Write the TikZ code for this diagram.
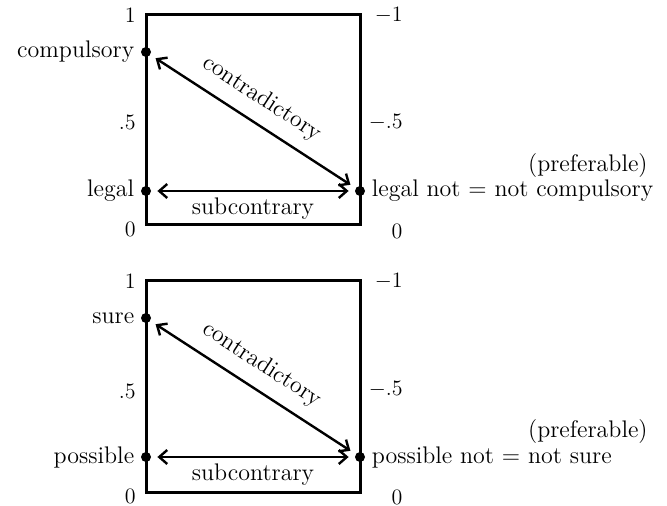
\documentclass[tikz,border=0pt]{standalone}
\usepackage{tikz}
\usetikzlibrary{arrows.meta,positioning}

\begin{document}
\begin{tikzpicture}[
        x=0.5pt, y=-0.5pt,
        node distance=2pt,
        frame/.style={line width=1.5pt, line join=miter},
        dot/.style={circle, fill, inner sep=0pt, minimum size=5pt},
        lbl/.style={font=\fontsize{12}{14}\selectfont, inner sep=1pt},
        num/.style={font=\fontsize{11}{13}\selectfont, inner sep=1pt},
        arr/.style={{Straight Barb[length=4pt,width=7pt]}-{Straight Barb[length=4pt,width=7pt]},
          line width=1.2pt, shorten <=3pt, shorten >=3pt}
      ]
        \useasboundingbox (0,0) rectangle (667,506);

        % upper square
        \draw[frame] (146,15) rectangle (360,225);
        \node[dot] (cmp) at (146,52) {};
        \node[dot] (lgl) at (146,191) {};
        \node[dot] (lnot) at (360,191) {};
        \node[lbl, left=of cmp] (cmpt) {compulsory};
        \node[lbl, left=of lgl] (lglt) {legal};
        \node[lbl, right=of lnot] (lnott) {legal not $=$ not compulsory};
        \node[lbl, anchor=east] (pref1) at (650,166) {(preferable)};
        \node[num, anchor=east] (one1) at (138,15) {1};
        \node[num, anchor=east] (half1) at (138,122) {.5};
        \node[num, anchor=east] (zero1) at (138,229) {0};
        \node[num, anchor=east] (mone1) at (405,15) {$-$1};
        \node[num, anchor=east] (mhalf1) at (405,122) {$-$.5};
        \node[num] (rzero1) at (397,231) {0};
        \draw[arr] (cmp) -- node[lbl, pos=0.48, sloped, above=5pt] {contradictory} (lnot);
        \draw[arr] (lgl) -- node[lbl, midway, below=2pt] {subcontrary} (lnot);

        % lower square
        \draw[frame] (146,281) rectangle (360,492);
        \node[dot] (sure) at (146,318) {};
        \node[dot] (poss) at (146,457) {};
        \node[dot] (pnot) at (360,457) {};
        \node[lbl, left=of sure] (suret) {sure};
        \node[lbl, left=of poss] (posst) {possible};
        \node[lbl, right=of pnot] (pnott) {possible not $=$ not sure};
        \node[lbl, anchor=east] (pref2) at (650,432) {(preferable)};
        \node[num, anchor=east] (one2) at (138,281) {1};
        \node[num, anchor=east] (half2) at (138,391) {.5};
        \node[num, anchor=east] (zero2) at (138,496) {0};
        \node[num, anchor=east] (mone2) at (405,281) {$-$1};
        \node[num, anchor=east] (mhalf2) at (405,389) {$-$.5};
        \node[num] (rzero2) at (397,497) {0};
        \draw[arr] (sure) -- node[lbl, pos=0.48, sloped, above=5pt] {contradictory} (pnot);
        \draw[arr] (poss) -- node[lbl, midway, below=2pt] {subcontrary} (pnot);
      \end{tikzpicture}
\end{document}
